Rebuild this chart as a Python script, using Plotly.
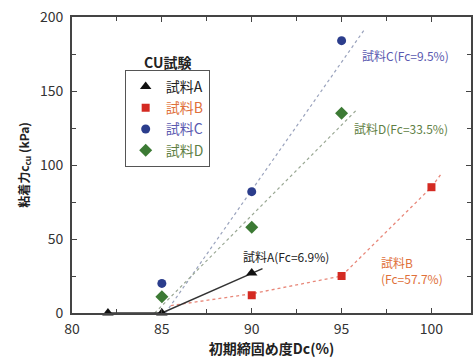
import plotly.graph_objects as go

# ---- data ----
dc_A = [82, 85, 90]
cu_A = [0, 0, 27]
dc_B = [90, 95, 100]
cu_B = [12, 25, 85]
dc_C = [85, 90, 95]
cu_C = [20, 82, 184]
dc_D = [85, 90, 95]
cu_D = [11, 58, 135]

# trend lines (end points)
trend_A_x = [82, 85, 90.6]
trend_A_y = [0, 0, 30]
trend_B_x = [85.5, 90, 95, 100, 100.6]
trend_B_y = [5, 13, 25, 85, 95]
trend_C_x = [85.2, 96.3]
trend_C_y = [0, 192]
trend_D_x = [84.6, 95.9]
trend_D_y = [0, 138]

x_ticks = [80, 85, 90, 95, 100]
y_ticks = [0, 50, 100, 150, 200]

names = ["試料A", "試料B", "試料C", "試料D"]
colors = ["#111111", "#d42a22", "#2b3d8c", "#3c7a34"]
text_colors = ["#222222", "#e0703a", "#5a5ab0", "#5f7f45"]

FONT = "Noto Sans CJK JP, Noto Sans, sans-serif"

fig = go.Figure()

# trend lines
fig.add_trace(go.Scatter(x=trend_C_x, y=trend_C_y, mode="lines",
                         line=dict(color="#9aa3bd", width=1.2, dash="dot"),
                         showlegend=False, hoverinfo="skip"))
fig.add_trace(go.Scatter(x=trend_D_x, y=trend_D_y, mode="lines",
                         line=dict(color="#9aa894", width=1.2, dash="dot"),
                         showlegend=False, hoverinfo="skip"))
fig.add_trace(go.Scatter(x=trend_B_x, y=trend_B_y, mode="lines",
                         line=dict(color="#e8887a", width=1.3, dash="dot"),
                         showlegend=False, hoverinfo="skip"))
fig.add_trace(go.Scatter(x=trend_A_x, y=trend_A_y, mode="lines",
                         line=dict(color="#333333", width=1.5),
                         showlegend=False, hoverinfo="skip"))

symbols = ["triangle-up", "square", "circle", "diamond"]
sizes = [10, 8, 9, 10]
xs = [dc_A, dc_B, dc_C, dc_D]
ys = [cu_A, cu_B, cu_C, cu_D]
for n, c, tc, s, sz, x, y in zip(names, colors, text_colors, symbols, sizes, xs, ys):
    fig.add_trace(go.Scatter(
        x=x, y=y, mode="markers",
        name=f"<span style='color:{tc}'>{n}</span>",
        marker=dict(symbol=s, size=sz, color=c, line=dict(width=0)),
        cliponaxis=False,
    ))

ann_font = dict(family=FONT, size=12)
fig.add_annotation(x=98.55, y=174, text="試料C(Fc=9.5%)", showarrow=False,
                   xanchor="center", yanchor="middle",
                   font=dict(**ann_font, color=text_colors[2]))
fig.add_annotation(x=98.3, y=125, text="試料D(Fc=33.5%)", showarrow=False,
                   xanchor="center", yanchor="middle",
                   font=dict(**ann_font, color=text_colors[3]))
fig.add_annotation(x=91.9, y=38.5, text="試料A(Fc=6.9%)", showarrow=False,
                   xanchor="center", yanchor="middle",
                   font=dict(**ann_font, color="#222222"))
fig.add_annotation(x=97.1, y=29, text="試料B<br>(Fc=57.7%)", showarrow=False,
                   xanchor="left", yanchor="middle", align="left",
                   font=dict(**ann_font, color=text_colors[1]))
fig.add_annotation(x=0.239, y=0.848, xref="paper", yref="paper",
                   xanchor="center", yanchor="middle",
                   text="<b>CU試験</b>", showarrow=False,
                   font=dict(family=FONT, size=14, color="#222222"))

axis_common = dict(
    showline=True, linecolor="#444444", linewidth=2, mirror="ticks",
    ticks="inside", ticklen=5, tickwidth=1.3, tickcolor="#444444",
    showgrid=False, zeroline=False, automargin=False,
    tickfont=dict(family=FONT, size=14, color="#333333"),
)

fig.update_layout(
    width=473, height=363,
    margin=dict(l=72, r=2, t=17, b=50),
    plot_bgcolor="white", paper_bgcolor="white",
    font=dict(family=FONT, color="#222222"),
    xaxis=dict(range=[80, 102.2], tickvals=x_ticks, ticklabelstandoff=2,
               minor=dict(ticks="inside", dtick=2.5, tick0=80, ticklen=4,
                          tickcolor="#444444"),
               title=dict(text="<b>初期締固め度Dc(%)</b>", standoff=6,
                          font=dict(family=FONT, size=14, color="#222222")),
               **axis_common),
    yaxis=dict(range=[0, 200], tickvals=y_ticks, ticklabelstandoff=4,
               minor=dict(ticks="inside", dtick=25, tick0=0, ticklen=4,
                          tickcolor="#444444"),
               title=dict(text="<b>粘着力c<sub>cu</sub> (kPa)</b>", standoff=8,
                          font=dict(family=FONT, size=12, color="#222222")),
               **axis_common),
    legend=dict(x=0.132, y=0.821, xanchor="left", yanchor="top",
                bgcolor="white", bordercolor="#555555", borderwidth=1,
                font=dict(family=FONT, size=14), itemwidth=30,
                tracegroupgap=0),
    showlegend=True,
)

fig.write_html("out.html",
               config={"displayModeBar": False},
               post_script="document.body.style.margin='0';document.body.style.padding='0';document.body.style.overflow='hidden';")
